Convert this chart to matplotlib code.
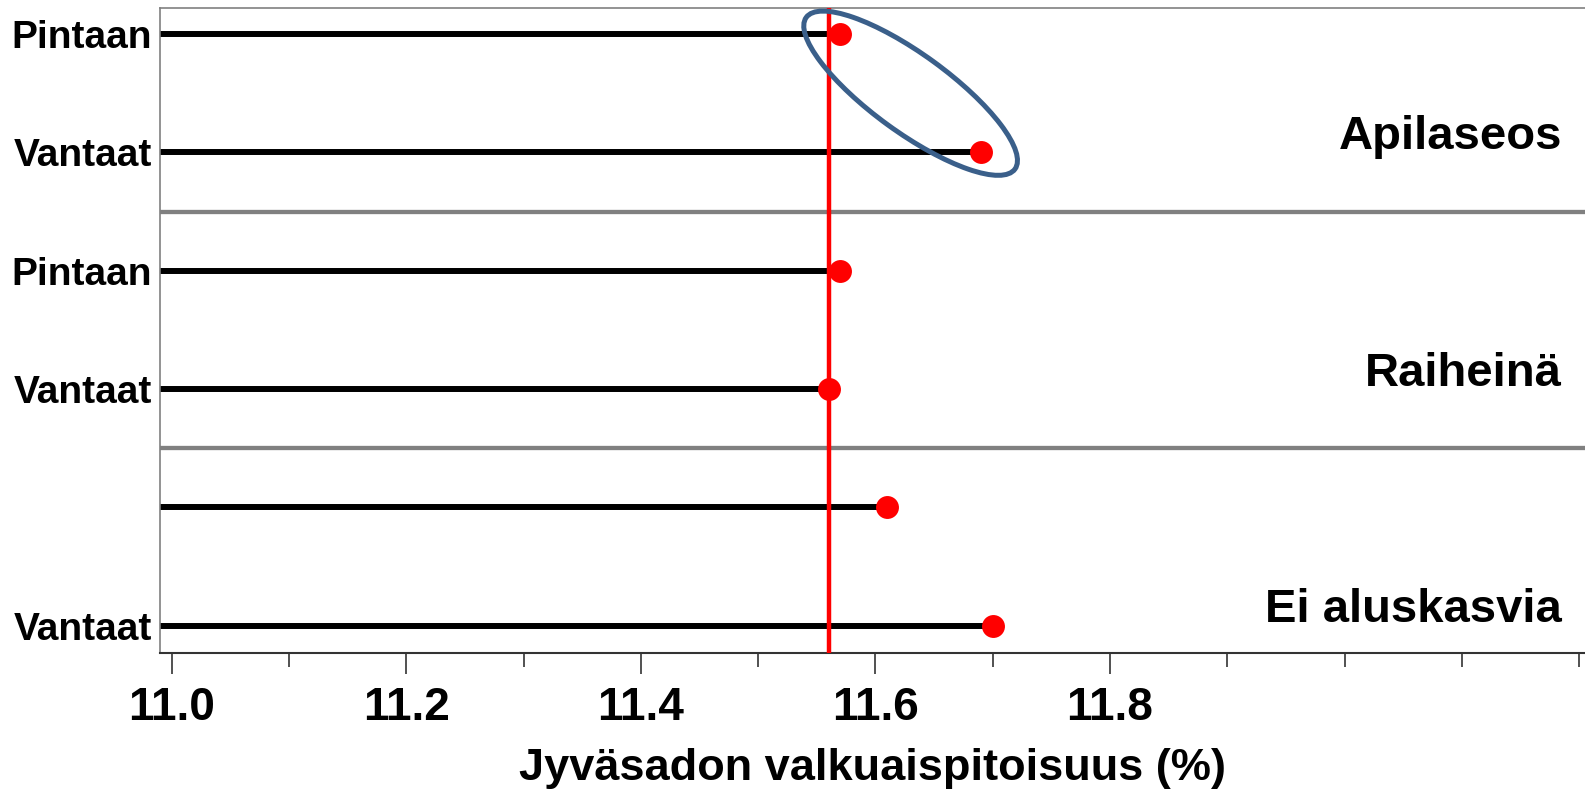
import matplotlib
matplotlib.use("Agg")
import matplotlib.pyplot as plt
from matplotlib.patches import Ellipse
from matplotlib.transforms import ScaledTranslation

plt.rcParams['font.family'] = ['Liberation Sans', 'DejaVu Sans']
plt.rcParams['font.weight'] = 'bold'

# rows from top to bottom
row_labels = ["Pintaan", "Vantaat", "Pintaan", "Vantaat", "", "Vantaat"]
values = [11.57, 11.69, 11.57, 11.56, 11.61, 11.70]
groups = ["Apilaseos", "Raiheinä", "Ei aluskasvia"]
group_label_rows = [0.87, 2.87, 4.87]
separators = [1.5, 3.5]
reference = 11.56

major_ticks = [11.0, 11.2, 11.4, 11.6, 11.8]
major_labels = ["11.0", "11.2", "11.4", "11.6", "11.8"]
minor_ticks = [11.1, 11.3, 11.5, 11.7, 11.9, 12.0, 12.1, 12.2]
xlabel = "Jyväsadon valkuaispitoisuus (%)"

fig = plt.figure(figsize=(15.85, 7.92), dpi=100)
ax = fig.add_axes([160 / 1585, 139 / 792, 1425 / 1585, 645 / 792])

xmin, xmax = 10.99, 12.205
ax.set_xlim(xmin, xmax)
ax.set_ylim(5.23, -0.22)

ypos = list(range(len(values)))

# separators between groups
for s in separators:
    ax.axhline(s, color="#808080", lw=3.1, zorder=1)

# stems
ax.hlines(ypos, xmin, values, color="black", lw=4.3, zorder=2)

# reference line
ax.axvline(reference, color="#ff0000", lw=3.2, zorder=3)

# dots
ax.plot(values, ypos, "o", color="#ff0000", ms=16.5, mec="none", zorder=5)

# highlight ellipse around the Apilaseos pair
cx = (values[0] + values[1]) / 2
cy = (ypos[0] + ypos[1]) / 2
tr = fig.dpi_scale_trans + ScaledTranslation(cx, cy, ax.transData)
ell = Ellipse((0, 0), 2.58, 0.78, angle=-36, transform=tr,
              fill=False, edgecolor="#3a5f8a", lw=3.6, zorder=6)
ax.add_patch(ell)

# group names
for g, r in zip(groups, group_label_rows):
    ax.text(0.984, r, g, transform=ax.get_yaxis_transform(), ha="right",
            va="center", fontsize=34, fontweight="bold")

ax.set_yticks(ypos)
ax.set_yticklabels(row_labels, fontsize=28, fontweight="bold")
ax.tick_params(axis="y", length=0, pad=6)

ax.set_xticks(major_ticks)
ax.set_xticklabels(major_labels, fontsize=33, fontweight="bold")
ax.set_xticks(minor_ticks, minor=True)
ax.tick_params(axis="x", which="major", length=15, width=1.2, color="#333333", pad=9)
ax.tick_params(axis="x", which="minor", length=10, width=1.2, color="#333333")
ax.set_xlabel(xlabel, fontsize=32.5, fontweight="bold", labelpad=13)

for side in ["left", "top", "right"]:
    ax.spines[side].set_color("#808080")
    ax.spines[side].set_linewidth(1.2)
ax.spines["right"].set_visible(False)
ax.spines["bottom"].set_color("#333333")
ax.spines["bottom"].set_linewidth(1.5)

fig.savefig("out.png", dpi=100)
